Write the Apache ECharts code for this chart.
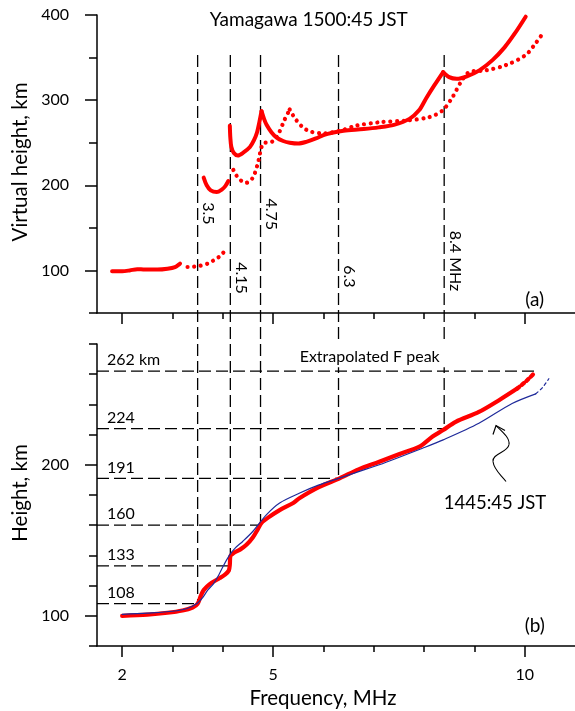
<!DOCTYPE html>
<html><head><meta charset="utf-8">
<script src="https://cdn.jsdelivr.net/npm/echarts@6/dist/echarts.min.js"></script>
<style>html,body{margin:0;padding:0;background:#fff}#c{width:575px;height:711px}</style>
</head><body><div id="c"></div>
<script>
// ---------- data (frequency MHz, height km) ----------
// (a) virtual height, O-mode (solid)
const oTraceE  = [[1.80,99],[2.0,99],[2.15,100],[2.3,101.5],[2.45,101],[2.7,101],[2.9,102],[3.05,104],[3.15,108]];
const oTraceF1 = [[3.62,209],[3.68,200],[3.76,194],[3.88,192],[3.98,195],[4.05,199],[4.11,205]];
const oTraceF2a = [[4.14,270],[4.15,256],[4.17,245],[4.22,238],[4.30,235],[4.40,238],[4.54,245],[4.62,253],[4.68,262],[4.73,275],[4.77,287]];
const oTraceF2b = [[4.77,287],[4.82,278],[4.87,271],[4.97,262],[5.07,256],[5.2,252],[5.33,250],[5.5,249],[5.66,251],[5.85,255],[6.0,259],[6.2,262],[6.4,264],[6.8,266],[7.1,268],[7.4,271],[7.71,278],[7.9,288],[8.04,302],[8.2,317],[8.38,333]];
const oTraceF2c = [[8.38,333],[8.5,327],[8.65,325],[8.85,328],[9.1,335],[9.36,347],[9.6,362],[9.8,378],[10.02,398]];
// (a) virtual height, X-mode (dotted)
const xTraceE  = [[3.30,104],[3.5,105],[3.7,108],[3.85,113],[3.95,117],[4.04,123]];
const xTraceF1 = [[4.21,218],[4.30,209],[4.40,204],[4.47,203],[4.56,206],[4.63,213],[4.71,229],[4.77,245],[4.83,250],[4.92,250],[5.02,253],[5.12,262],[5.22,276],[5.33,289]];
const xTraceF2 = [[5.33,289],[5.43,279],[5.59,268],[5.75,263],[5.99,261],[6.33,264],[6.65,270],[7.11,274],[7.64,276],[8.10,280],[8.37,288],[8.57,304],[8.73,321],[8.90,333],[9.23,335],[9.62,341],[10.02,353],[10.22,367],[10.38,380]];
// (b) true height profiles
const profile1500 = [[2.0,100],[2.5,100.8],[2.9,102],[3.2,103.5],[3.4,105.5],[3.5,108],[3.56,113],[3.62,117],[3.74,121],[3.94,125],[4.05,127.5],[4.12,130],[4.14,134],[4.15,139.5],[4.21,141.5],[4.35,144],[4.47,147],[4.6,152],[4.7,157.5],[4.77,161.5],[4.9,165],[5.13,170],[5.4,174.7],[5.53,178],[5.9,185],[6.33,191.2],[6.7,197],[7.11,202],[7.5,207],[7.91,212],[8.17,218.7],[8.38,223],[8.63,228.5],[9.09,235],[9.49,242.8],[9.85,250.5]];
const profile1500Extrap = [[9.85,250.5],[10.05,256],[10.2,261]];
const profile1445 = [[2.0,101],[2.5,101.8],[3.0,103],[3.3,105],[3.5,108.5],[3.6,112],[3.7,117],[3.81,121],[3.92,127],[4.01,133],[4.14,140.5],[4.25,145],[4.40,149.4],[4.6,156],[4.87,167],[5.13,174.7],[5.53,181.3],[5.9,186.5],[6.32,191.2],[6.7,195.5],[7.11,200],[7.97,211],[8.38,216.5],[9.09,227.5],[9.75,240.6],[10.22,247]];
const profile1445Extrap = [[10.22,247],[10.35,251],[10.48,257]];
// reference frequencies and reflection heights
const cutFreq   = [3.5, 4.15, 4.75, 6.3, 8.4];
const cutHeight = [108, 133, 160, 191, 224];
const cutText   = ['3.5', '4.15', '4.75', '6.3', '8.4 MHz'];
const hText     = ['108', '133', '160', '191', '224'];
const peakFreq = 10.2, peakHeight = 262, peakText = '262 km';
// axis ticks
const xMajor = [2, 5, 10];
const xMinor = [3, 4, 6, 7, 8, 9];
const yTopMajor = [100, 200, 300, 400];
const yTopMinor = [50, 150, 250, 350];
const yBotMajor = [100, 200];
const yBotMinor = [80, 120, 140, 160, 180, 220, 240, 260, 280];

// ---------- layout / style ----------
const FONT = 'Lato, "Noto Sans", sans-serif';
const RED = '#ff0000', BLUE = '#1f2a9a';
const cutLabelH = [167, 91, 166, 93, 111]; // where rotated labels sit (virtual height)
const chart = echarts.init(document.getElementById('c'));

function xAx(grid, ticks, len, lbl, line) {
  return {type:'value', gridIndex:grid, position:'bottom', min:1.5, max:11,
    axisLine:{show:line, onZero:false, lineStyle:{color:'#000', width:1.5}},
    axisTick:{show:true, customValues:ticks, length:len, lineStyle:{color:'#000', width:1.5}},
    axisLabel:{show:lbl, customValues:ticks, margin:21, color:'#000', fontSize:16, fontFamily:FONT},
    splitLine:{show:false}};
}
function yAx(grid, min, max, ticks, len, lbl, line) {
  return {type:'value', gridIndex:grid, position:'left', min, max,
    axisLine:{show:line, onZero:false, lineStyle:{color:'#000', width:1.5}},
    axisTick:{show:true, customValues:ticks, length:len, lineStyle:{color:'#000', width:1.5}},
    axisLabel:{show:lbl, customValues:ticks, margin:28, color:'#000', fontSize:16, fontFamily:FONT},
    splitLine:{show:false}};
}
function ln(data, xi, yi, color, width, type, smooth) {
  return {type:'line', xAxisIndex:xi, yAxisIndex:yi, data, symbol:'none', showSymbol:false,
    smooth: smooth === undefined ? 0.3 : smooth, silent:true, animation:false, clip:false,
    lineStyle:{color, width, type, cap:'round', join:'round'}};
}
const DOT = [0.01, 6.6];

chart.setOption({
  animation:false,
  backgroundColor:'#fff',
  grid:[{left:97, top:15, width:479, height:298}, {left:97, top:344, width:479, height:302}],
  xAxis:[xAx(0, xMajor, 11, false, true), xAx(0, xMinor, 6, false, false),
         xAx(1, xMajor, 11, true, true), xAx(1, xMinor, 6, false, false)],
  yAxis:[yAx(0, 50, 400, yTopMajor, 12, true, true), yAx(0, 50, 400, yTopMinor, 8, false, false),
         yAx(1, 80, 280, yBotMajor, 12, true, true), yAx(1, 80, 280, yBotMinor, 8, false, false)],
  series:[
    ln(oTraceE, 0, 0, RED, 4, 'solid'),
    ln(oTraceF1, 0, 0, RED, 4, 'solid'),
    ln(oTraceF2a, 0, 0, RED, 4, 'solid'),
    ln(oTraceF2b, 0, 0, RED, 4, 'solid'),
    ln(oTraceF2c, 0, 0, RED, 4, 'solid'),
    ln(xTraceE, 0, 0, RED, 4.2, DOT),
    ln(xTraceF1, 0, 0, RED, 4.2, DOT),
    ln(xTraceF2, 0, 0, RED, 4.2, DOT),
    ln(profile1500, 2, 2, RED, 4.2, 'solid'),
    ln(profile1500Extrap, 2, 2, RED, 4.2, [3, 3]),
    ln(profile1445, 2, 2, BLUE, 1.2, 'solid'),
    ln(profile1445Extrap, 2, 2, BLUE, 1.2, [3, 3])
  ]
});

// ---------- annotations positioned through the axes ----------
const pA = v => chart.convertToPixel({xAxisIndex:0, yAxisIndex:0}, v);
const pB = v => chart.convertToPixel({xAxisIndex:2, yAxisIndex:2}, v);
const dash = {stroke:'#000', lineWidth:1.3, lineDash:[12, 5]};
function txt(x, y, text, size, align, vAlign, rotation, extra) {
  return {type:'text', x, y, rotation: rotation || 0, silent:true,
    style:Object.assign({text, fill:'#000', font: size + 'px ' + FONT, align: align || 'left', verticalAlign: vAlign || 'bottom'}, extra || {})};
}
const g = [];
const VTOP = 353;
cutFreq.forEach((f, i) => {
  const a = pA([f, VTOP]), b = pB([f, cutHeight[i]]), l = pB([1.5, cutHeight[i]]);
  g.push({type:'line', silent:true, shape:{x1:a[0], y1:a[1], x2:b[0], y2:b[1]}, style:dash});
  g.push({type:'line', silent:true, shape:{x1:l[0], y1:l[1], x2:b[0], y2:b[1]}, style:dash});
  g.push(txt(l[0] + 10, l[1] - 3, hText[i], 16));
  const c = pA([f, cutLabelH[i]]);
  g.push(txt(c[0] + 11, c[1], cutText[i], 16, 'center', 'middle', -Math.PI/2));
});
{
  const l = pB([1.5, peakHeight]), r = pB([peakFreq, peakHeight]);
  g.push({type:'line', silent:true, shape:{x1:l[0], y1:l[1], x2:r[0], y2:r[1]}, style:dash});
  g.push(txt(l[0] + 10, l[1] - 3, peakText, 16));
  const m = pB([6.9, peakHeight]);
  g.push(txt(m[0], m[1] - 4, 'Extrapolated F peak', 16, 'center', 'bottom', 0,
    {backgroundColor:'#fff', padding:[8, 6, 2, 8]}));
}
{
  const t = pA([5.71, 400]);
  g.push(txt(t[0], 20, 'Yamagawa 1500:45 JST', 19, 'center', 'middle'));
  const a = pA([10.2, 66]);
  g.push(txt(a[0], a[1], '(a)', 19, 'center', 'middle'));
  const b = pB([10.2, 93]);
  g.push(txt(b[0], b[1], '(b)', 19, 'center', 'middle'));
  const n = pB([9.41, 174.5]);
  g.push(txt(n[0], n[1], '1445:45 JST', 18.5, 'center', 'middle'));
  const tip = pB([9.43, 226]);
  const tx = tip[0], ty = tip[1];
  const st = {stroke:'#000', fill:null, lineWidth:1.1};
  g.push({type:'bezierCurve', silent:true, style:st,
    shape:{x1:tx, y1:ty, cpx1:tx+6, cpy1:ty+6, cpx2:tx+14, cpy2:ty+12, x2:tx+13, y2:ty+19}});
  g.push({type:'bezierCurve', silent:true, style:st,
    shape:{x1:tx+13, y1:ty+19, cpx1:tx+12, cpy1:ty+27, cpx2:tx-4, cpy2:ty+28, x2:tx-3, y2:ty+36}});
  g.push({type:'bezierCurve', silent:true, style:st,
    shape:{x1:tx-3, y1:ty+36, cpx1:tx-2, cpy1:ty+45, cpx2:tx+6, cpy2:ty+50, x2:tx+10, y2:ty+56}});
  g.push({type:'polyline', silent:true,
    shape:{points:[[tx-3, ty+9],[tx, ty],[tx+9, ty+5]]}, style:{stroke:'#000', fill:null, lineWidth:1.2}});
  g.push(txt(20, 162, 'Virtual height, km', 20.5, 'center', 'middle', Math.PI/2));
  g.push(txt(20, 493, 'Height, km', 20.5, 'center', 'middle', Math.PI/2));
  g.push(txt(323, 698, 'Frequency, MHz', 20.5, 'center', 'middle'));
}
chart.setOption({graphic:g});
</script></body></html>
